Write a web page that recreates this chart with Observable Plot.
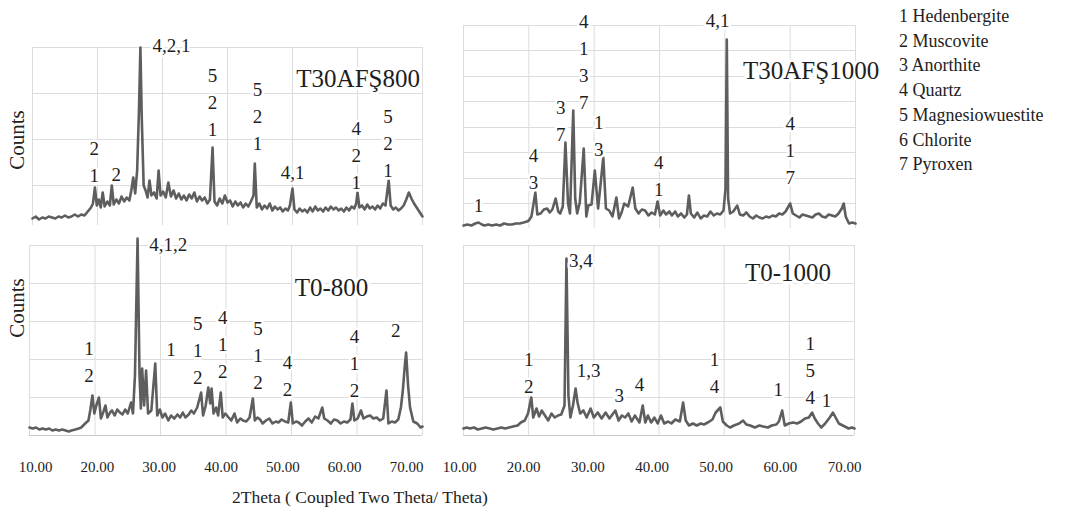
<!DOCTYPE html>
<html>
<head>
<meta charset="utf-8">
<script src="https://cdn.jsdelivr.net/npm/d3@7"></script>
<script src="https://cdn.jsdelivr.net/npm/@observablehq/plot@0.6"></script>
<style>
  html, body { margin: 0; padding: 0; background: #fff; }
  #root { position: relative; width: 1084px; height: 515px; overflow: hidden; background: #fff;
          font-family: 'Liberation Serif', 'DejaVu Serif', serif; color: #222; }
  .counts { position: absolute; font-size: 21px; transform: translate(-50%, -50%) rotate(-90deg); white-space: nowrap; }
  #legend { position: absolute; left: 899px; top: 4px; font-size: 18px; line-height: 24.7px; white-space: nowrap; }
  #xtitle { position: absolute; left: 360px; top: 497px; transform: translate(-50%, -50%); font-size: 17.5px; white-space: nowrap; }
</style>
</head>
<body>
<div id="root"></div>
<script>
// ---- tick values ----
const xTicks = [10, 20, 30, 40, 50, 60, 70];
const gridTL = [40, 86, 132, 178];
const gridTR = [25, 50, 76, 101, 127, 152, 178, 203];
const gridB = [38, 76, 114, 152, 190];

// ---- legend / axis texts ----
const legendItems = ["1 Hedenbergite", "2 Muscovite", "3 Anorthite", "4 Quartz", "5 Magnesiowuestite", "6 Chlorite", "7 Pyroxen"];
const yLabel = "Counts";
const xLabel = "2Theta ( Coupled Two Theta/ Theta)";

// ---- series: [2theta, counts] ----
const T30AFS800 = [
 [10,7],[10.5,9],[11,6],[11.5,8],[12,7],[12.5,9],[13,8],[13.5,7],[14,9],[14.5,8],[15,10],[15.5,8],[16,9],[16.5,11],[17,9],[17.5,11],[18,10],[18.5,14],[19,18],[19.3,22],
 [19.6,38],[19.9,20],[20.2,26],[20.5,18],[20.8,33],[21.1,19],[21.5,24],[21.9,20],[22.2,40],[22.5,21],[22.9,26],[23.3,22],[23.7,29],[24.1,24],[24.5,28],[24.9,25],[25.2,35],[25.5,48],[25.8,32],[26.1,55],
 [26.4,120],[26.6,178],[26.8,110],[27.1,40],[27.4,35],[27.7,28],[28,45],[28.3,30],[28.7,33],[29.1,27],[29.4,55],[29.7,30],[30.1,34],[30.5,28],[30.9,43],[31.3,29],[31.7,35],[32.1,27],[32.5,32],[32.9,26],
 [33.3,30],[33.7,25],[34.1,31],[34.5,27],[34.9,33],[35.3,24],[35.7,29],[36.1,25],[36.5,28],[36.9,22],[37.3,26],[37.7,78],[38,24],[38.4,20],[38.8,27],[39.2,22],[39.6,30],[40,23],[40.4,25],[40.8,19],
 [41.2,24],[41.6,20],[42,23],[42.4,18],[42.8,22],[43.2,19],[43.6,24],[44,30],[44.2,62],[44.5,18],[44.9,22],[45.3,16],[45.7,20],[46.1,17],[46.5,22],[46.9,15],[47.3,19],[47.7,16],[48.1,18],[48.5,14],
 [48.9,17],[49.3,15],[49.6,20],[50,37],[50.3,16],[50.7,13],[51.1,17],[51.5,14],[51.9,16],[52.3,13],[52.7,18],[53.1,14],[53.5,19],[53.9,15],[54.3,17],[54.7,14],[55.1,18],[55.5,15],[55.9,19],[56.3,16],
 [56.7,18],[57.1,15],[57.5,17],[57.9,14],[58.3,18],[58.7,15],[59.1,19],[59.5,17],[59.8,22],[60,33],[60.3,18],[60.7,20],[61.1,16],[61.5,21],[61.9,17],[62.3,19],[62.7,16],[63.1,20],[63.5,17],[63.9,22],
 [64.3,20],[64.8,45],[65.1,20],[65.5,16],[65.9,18],[66.3,15],[66.7,17],[67.1,20],[67.5,26],[67.9,33],[68.3,27],[68.7,22],[69.1,18],[69.5,14],[70,9]
];
const T30AFS1000 = [
 [10,3],[10.6,4],[11.2,3],[11.8,5],[12.3,6],[12.8,4],[13.2,3],[13.8,4],[14.4,3],[15,4],[15.6,3],[16.2,5],[16.8,4],[17.4,4],[18,5],[18.6,5],[19.2,6],[19.7,7],[20,8],[20.4,12],
 [21,36],[21.3,14],[21.8,15],[22.3,19],[22.8,20],[23.2,16],[23.6,19],[24.1,30],[24.5,17],[24.8,15],[25.2,22],[25.6,86],[26,25],[26.3,15],[26.8,118],[27.1,30],[27.4,15],[27.8,26],[28.4,80],[28.8,12],
 [29.1,23],[29.6,24],[30.1,58],[30.6,20],[31.4,71],[31.8,20],[32.3,18],[32.8,12],[33.4,31],[33.8,10],[34.2,16],[34.6,25],[35.2,22],[35.9,41],[36.3,20],[36.8,15],[37.3,19],[37.8,18],[38.3,13],[38.8,16],
 [39.3,14],[39.7,27],[40.1,13],[40.6,18],[41,14],[41.5,17],[41.9,13],[42.4,17],[42.8,12],[43.3,15],[43.8,11],[44.2,14],[44.5,33],[44.8,15],[45.3,11],[45.8,16],[46.3,10],[46.8,13],[47.3,12],[47.8,17],
 [48.3,13],[48.8,15],[49.3,14],[49.8,18],[50.1,40],[50.3,189],[50.5,30],[50.8,15],[51.3,17],[51.9,23],[52.3,14],[52.8,13],[53.3,16],[53.8,12],[54.3,10],[54.8,13],[55.3,11],[55.8,10],[56.3,12],[56.8,11],
 [57.3,13],[57.8,12],[58.3,15],[58.8,14],[59.3,17],[60,25],[60.4,15],[60.9,13],[61.4,11],[61.9,14],[62.4,13],[62.9,12],[63.4,11],[63.9,14],[64.4,15],[64.9,12],[65.4,11],[65.9,14],[66.4,13],[66.9,12],
 [67.4,15],[67.9,20],[68.2,25],[68.5,12],[69,5],[69.5,6],[70,5]
];
const T0_800 = [
 [10,8],[10.5,7],[11,8],[11.5,6],[12,7],[12.5,6],[13,7],[13.5,5],[14,6],[14.5,5],[15,6],[15.5,5],[16,4],[16.4,5],[17,6],[17.5,7],[17.9,8],[18.5,12],[19,15],[19.3,26],
 [19.6,40],[19.9,22],[20.2,30],[20.6,38],[20.9,17],[21.3,24],[21.6,30],[21.9,18],[22.3,23],[22.6,25],[23,20],[23.4,26],[23.8,23],[24.2,21],[24.6,26],[25,22],[25.5,33],[25.8,22],[26.1,60],[26.5,197],
 [26.8,60],[27,27],[27.2,67],[27.5,30],[27.8,65],[28.1,22],[28.6,25],[29.2,72],[29.5,20],[29.9,26],[30.3,18],[30.7,22],[31.2,15],[31.6,20],[32.1,17],[32.6,21],[33,18],[33.4,23],[33.8,18],[34.3,21],
 [34.7,25],[35.1,22],[35.6,28],[36.2,43],[36.5,20],[36.9,30],[37.3,48],[37.6,32],[37.8,47],[38.1,22],[38.5,28],[38.8,20],[39.2,43],[39.5,18],[39.9,22],[40.4,18],[40.8,15],[41.3,22],[41.7,13],[42.2,17],
 [42.6,15],[43.1,14],[43.6,18],[44.1,37],[44.4,15],[44.8,18],[45.2,16],[45.6,12],[46.1,15],[46.6,17],[47.1,12],[47.6,14],[48,13],[48.5,16],[49,14],[49.5,13],[49.9,33],[50.2,12],[50.7,14],[51.1,13],
 [51.6,10],[52.1,14],[52.6,17],[53.1,13],[53.6,19],[54.1,17],[54.7,28],[55,17],[55.5,15],[56,12],[56.5,16],[57,15],[57.5,12],[58,14],[58.5,13],[59,16],[59.3,32],[59.6,15],[60.1,17],[60.6,25],
 [61,17],[61.5,19],[62,20],[62.5,17],[63,18],[63.5,15],[64,17],[64.5,45],[64.8,12],[65.3,14],[65.8,13],[66.3,16],[66.7,28],[67,45],[67.3,70],[67.5,83],[67.8,50],[68.1,28],[68.6,14],[69.2,12],[69.7,8],[70,9]
];
const T0_1000 = [
 [10,7],[10.5,8],[11,7],[11.6,8],[12.2,6],[12.8,7],[13.4,8],[14,7],[14.6,6],[15.2,7],[15.8,8],[16.4,7],[17,8],[17.6,9],[18.3,10],[18.8,13],[19.4,15],[19.9,22],[20.4,38],[20.7,18],
 [21.2,27],[21.6,19],[22,25],[22.5,20],[23,15],[23.5,22],[24,18],[24.5,20],[25,21],[25.5,30],[25.8,177],[26.1,40],[26.4,18],[26.8,30],[27.2,47],[27.5,33],[27.9,22],[28.4,25],[28.9,18],[29.5,27],
 [30,18],[30.6,23],[31.2,17],[31.8,23],[32.4,17],[33.3,25],[33.8,15],[34.3,20],[34.8,18],[35.3,22],[35.8,14],[36.3,20],[37,13],[37.5,30],[37.9,13],[38.3,20],[38.8,13],[39.3,18],[39.8,12],[40.3,20],
 [40.8,12],[41.4,14],[41.9,12],[42.5,16],[43.2,14],[43.7,33],[44.1,15],[44.6,10],[45.2,12],[45.8,10],[46.4,12],[46.9,11],[47.5,13],[48.2,16],[48.7,23],[49.4,28],[49.8,14],[50.4,10],[50.9,8],[51.5,10],
 [52.3,12],[52.9,15],[53.4,11],[54,10],[54.7,8],[55.4,10],[56,9],[56.7,8],[57.3,10],[58,11],[58.4,14],[58.9,25],[59.3,10],[59.9,12],[60.6,13],[61.2,12],[61.8,14],[62.4,17],[63,18],[63.5,23],
 [63.9,17],[64.4,12],[64.9,8],[65.5,12],[66.2,18],[66.7,23],[67.1,18],[67.6,12],[68.2,10],[68.8,8],[69.1,7],[69.6,8],[70,7]
];

// ---- phase labels (text, 2theta, counts) ----
const labelsT30AFS800 = [
 {t:"2\n1", x:19.5, y:65.5}, {t:"2", x:22.9, y:53}, {t:"4,2,1", x:31.4, y:182},
 {t:"5\n2\n1", x:37.7, y:125}, {t:"5\n2\n1", x:44.6, y:111}, {t:"4,1", x:50, y:55},
 {t:"4\n2\n1", x:59.8, y:72}, {t:"5\n2\n1", x:64.7, y:84}
];
const labelsT30AFS1000 = [
 {t:"1", x:12.3, y:25}, {t:"4\n3", x:20.7, y:62}, {t:"3\n7", x:24.9, y:109.5},
 {t:"4\n1\n3\n7", x:28.4, y:169}, {t:"1\n3", x:30.7, y:94.5}, {t:"4\n1", x:39.9, y:54.5},
 {t:"4,1", x:48.9, y:210}, {t:"4\n1\n7", x:60, y:80}
];
const labelsT0_800 = [
 {t:"1\n2", x:19.1, y:76}, {t:"4,1,2", x:31.2, y:193}, {t:"1", x:31.6, y:88},
 {t:"5\n1\n2", x:35.7, y:87}, {t:"4\n1\n2", x:39.5, y:93}, {t:"5\n1\n2", x:44.9, y:82},
 {t:"4\n2", x:49.4, y:61.5}, {t:"4\n1\n2", x:59.6, y:74}, {t:"2", x:65.9, y:107}
];
const labelsT0_1000 = [
 {t:"1\n2", x:20, y:64.5}, {t:"3,4", x:28, y:177}, {t:"1,3", x:29.2, y:67},
 {t:"3", x:33.9, y:42}, {t:"4", x:37, y:53}, {t:"1\n4", x:48.5, y:65},
 {t:"1", x:58.3, y:48}, {t:"1\n5\n4", x:63.2, y:67}, {t:"1", x:65.7, y:37}
];
const titles = [
 {t:"T30AFŞ800", x:60.1, y:147},
 {t:"T30AFŞ1000", x:63.2, y:158},
 {t:"T0-800", x:56.1, y:148},
 {t:"T0-1000", x:59.8, y:163}
];

const FONT = "'Liberation Serif', 'DejaVu Serif', serif";
const root = document.getElementById("root");

function place(svg, left, top) {
  svg.style.position = "absolute";
  svg.style.left = left + "px";
  svg.style.top = top + "px";
  root.appendChild(svg);
}

function panel(cfg) {
  const marks = [
    Plot.gridX(xTicks, {stroke: "#dcdcdc", strokeOpacity: 1}),
    Plot.gridY(cfg.grid, {stroke: "#dcdcdc", strokeOpacity: 1})
  ];
  if (cfg.bottomAxis) marks.push(Plot.ruleY([0], {stroke: "#c8c8c8"}));
  marks.push(Plot.line(cfg.data, {x: d => d[0], y: d => d[1], stroke: "#5e5e5e", strokeWidth: 2.6, strokeLinejoin: "round"}));
  marks.push(Plot.text(cfg.labels, {x: "x", y: "y", text: "t", fontSize: 19, lineHeight: 1.42, fill: "#1e1e1e",
                                    stroke: "white", strokeWidth: 5}));
  marks.push(Plot.text([cfg.title], {x: "x", y: "y", text: "t", fontSize: 25, fill: "#1e1e1e", stroke: "white", strokeWidth: 6}));
  const svg = Plot.plot({
    width: cfg.width, height: cfg.height,
    marginTop: cfg.mt, marginBottom: cfg.mb, marginLeft: cfg.ml, marginRight: cfg.mr,
    x: {domain: [10, 70], axis: null},
    y: {domain: [0, cfg.ymax], axis: null},
    style: {fontFamily: FONT, background: "transparent", overflow: "visible", fontSize: "15px"},
    marks
  });
  place(svg, cfg.left, cfg.top);
}

// tick-label strip under a bottom panel
function axisStrip(left, range) {
  const svg = Plot.plot({
    width: 440, height: 40, marginTop: 0, marginBottom: 30, marginLeft: 0, marginRight: 0,
    x: {domain: [10, 70], range, axis: null},
    style: {fontFamily: FONT, background: "transparent", overflow: "visible", fontSize: "15px"},
    marks: [Plot.axisX(xTicks, {tickFormat: d3.format(".2f"), tickSize: 0, tickPadding: 3, fill: "#222", label: null})]
  });
  place(svg, left, 448);
}

panel({data: T30AFS800, labels: labelsT30AFS800, title: titles[0], grid: gridTL, ymax: 178,
       left: 0, top: 0, width: 440, height: 225, mt: 47, mb: 0, ml: 32, mr: 18});
panel({data: T30AFS1000, labels: labelsT30AFS1000, title: titles[1], grid: gridTR, ymax: 203,
       left: 430, top: 0, width: 440, height: 228, mt: 25, mb: 0, ml: 33, mr: 15});
panel({data: T0_800, labels: labelsT0_800, title: titles[2], grid: gridB, ymax: 190, bottomAxis: true,
       left: 0, top: 225, width: 440, height: 210, mt: 20, mb: 0, ml: 29, mr: 18});
panel({data: T0_1000, labels: labelsT0_1000, title: titles[3], grid: gridB, ymax: 190, bottomAxis: true,
       left: 430, top: 225, width: 440, height: 210, mt: 20, mb: 0, ml: 33, mr: 16});

axisStrip(0, [35, 406]);
axisStrip(430, [29, 414]);

// y labels
[[17, 140], [17, 308]].forEach(([x, y]) => {
  const d = document.createElement("div");
  d.className = "counts";
  d.style.left = x + "px"; d.style.top = y + "px";
  d.textContent = yLabel;
  root.appendChild(d);
});

// x title
const xt = document.createElement("div");
xt.id = "xtitle"; xt.textContent = xLabel;
root.appendChild(xt);

// legend
const lg = document.createElement("div");
lg.id = "legend";
lg.innerHTML = legendItems.map(s => "<div>" + s + "</div>").join("");
root.appendChild(lg);
</script>
</body>
</html>
